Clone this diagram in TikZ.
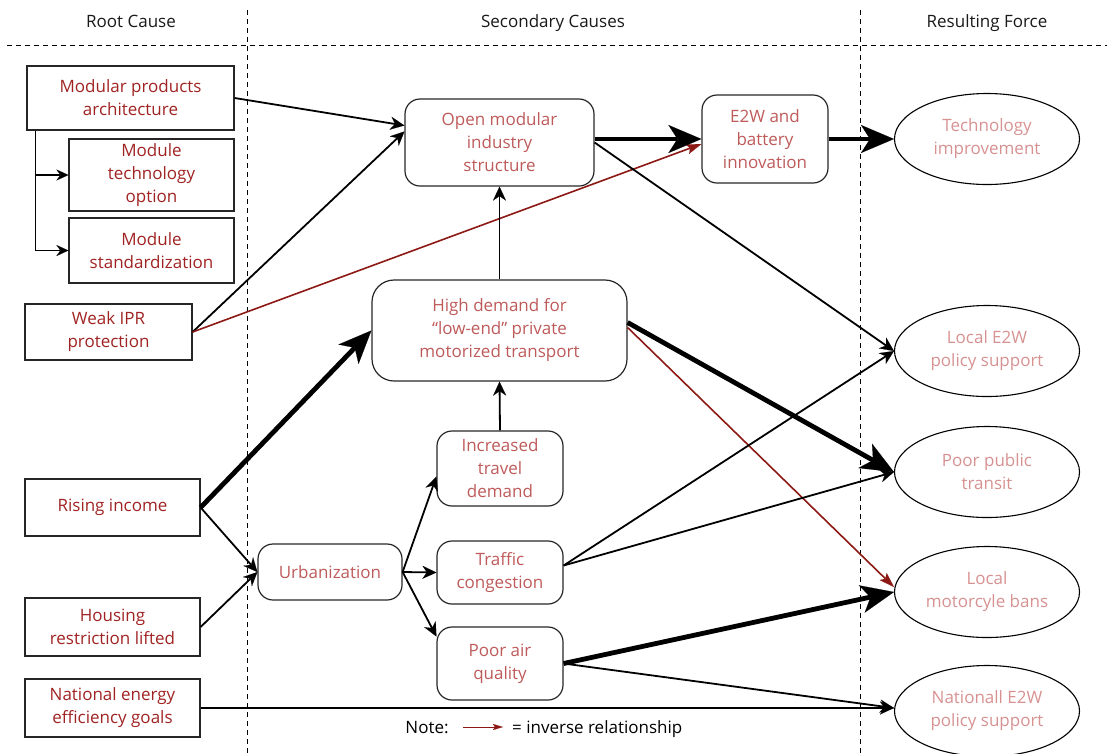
\documentclass[tikz,border=0pt]{standalone}
\usepackage{fontspec}
\setmainfont{Open Sans}
\usetikzlibrary{arrows.meta,shapes.geometric}
\definecolor{rootred}{RGB}{160,35,35}
\definecolor{secred}{RGB}{190,90,90}
\definecolor{resred}{RGB}{215,145,145}
\definecolor{invred}{RGB}{140,25,20}
\begin{document}
\begin{tikzpicture}[x=1pt,y=-1pt,
  font=\fontsize{17}{23}\selectfont,
  rootbox/.style={draw=black!85, line width=1.2pt, rectangle, align=center, text=rootred, inner sep=0pt},
  secbox/.style={draw=black!85, line width=1.2pt, rounded corners=15pt, align=center, text=secred, inner sep=0pt},
  resell/.style={draw=black, line width=1.1pt, ellipse, align=center, text=resred, inner sep=0pt, minimum width=185pt, minimum height=91pt},
  norm/.style={line width=1.8pt, -{Stealth[length=14pt,width=13pt,inset=4.5pt,line width=0.1pt]}},
  branch/.style={line width=1.3pt, -{Stealth[length=12pt,width=11pt,inset=4pt,line width=0.1pt]}},
  heavy/.style={line width=4.8pt, -{Stealth[length=33pt,width=28pt,inset=9pt,line width=0.1pt]}},
  inv/.style={draw=invred, line width=1.6pt, -{Stealth[length=15pt,width=10pt,inset=3pt,line width=0.1pt]}},
  hdr/.style={text=black!90, anchor=base, inner sep=0pt},
  sep/.style={dash pattern=on 5pt off 4pt, line width=1pt}
]
\useasboundingbox (0,0) rectangle (1107,753);
% headers and separators
\node[hdr] (h1) at (131,27) {Root Cause};
\node[hdr] (h2) at (553,27) {Secondary Causes};
\node[hdr] (h3) at (987,27) {Resulting Force};
\draw[sep] (7,45) -- (1107,45);
\draw[sep] (247,10) -- (247,753);
\draw[sep] (860,10) -- (860,753);
% root causes
\node[rootbox, minimum width=207pt, minimum height=64pt] (mpa) at (130.5,98) {Modular products\\architecture};
\node[rootbox, minimum width=165pt, minimum height=72pt] (mto) at (151.5,175) {Module\\technology\\option};
\node[rootbox, minimum width=165pt, minimum height=65pt] (mst) at (151.5,250.5) {Module\\standardization};
\node[rootbox, minimum width=167pt, minimum height=56pt] (wipr) at (108.5,332) {Weak IPR\\protection};
\node[rootbox, minimum width=175pt, minimum height=57pt] (ri) at (112.5,507.5) {Rising income};
\node[rootbox, minimum width=175pt, minimum height=58pt] (hr) at (112.5,627) {Housing\\restriction lifted};
\node[rootbox, minimum width=175pt, minimum height=58pt] (nee) at (112.5,708) {National energy\\efficiency goals};
% secondary causes
\node[secbox, minimum width=189pt, minimum height=87pt] (om) at (499.5,142.5) {Open modular\\industry\\structure};
\node[secbox, minimum width=126pt, minimum height=88pt] (e2w) at (765,139) {E2W and\\battery\\innovation};
\node[secbox, rounded corners=22pt, minimum width=255pt, minimum height=101pt] (hd) at (499.5,330.5) {High demand for\\“low-end” private\\motorized transport};
\node[secbox, minimum width=126pt, minimum height=75pt] (itd) at (500,468.5) {Increased\\travel\\demand};
\node[secbox, minimum width=144pt, minimum height=56pt] (urb) at (330,572) {Urbanization};
\node[secbox, minimum width=126pt, minimum height=63pt] (tc) at (500,572.5) {Traffic\\congestion};
\node[secbox, minimum width=126pt, minimum height=73pt] (paq) at (500,663.5) {Poor air\\quality};
% resulting forces
\node[resell] (ti) at (987,139) {Technology\\improvement};
\node[resell] (le2w) at (987,351) {Local E2W\\policy support};
\node[resell] (ppt) at (987,472) {Poor public\\transit};
\node[resell] (lmb) at (987,592) {Local\\motorcyle bans};
\node[resell] (ne2w) at (987,711) {Nationall E2W\\policy support};
% connectors
\draw[branch] ([xshift=9pt]mpa.south west) |- (mto.west);
\draw[branch] ([xshift=9pt]mpa.south west) |- (mst.west);
\draw[norm] (mpa.east) -- ([yshift=17pt]om.west);
\draw[norm] (wipr.east) -- ([yshift=11pt]om.west);
\draw[inv] (wipr.east) -- ([yshift=-5pt]e2w.west);
\draw[heavy] (om.east |- e2w.west) -- (e2w.west);
\draw[heavy] (e2w.east) -- (ti.west);
\draw[norm] (om.east) -- (le2w.west);
\draw[norm] (hd.north) -- (om.south);
\draw[heavy] (ri.east) -- (hd.west);
\draw[norm] (ri.east) -- (urb.west);
\draw[norm] (hr.east) -- (urb.west);
\draw[norm] (urb.east) -- ([yshift=-8pt]itd.west);
\draw[norm] (urb.east) -- (tc.west);
\draw[norm] (urb.east) -- ([yshift=27pt]paq.west);
\draw[norm] (itd.north) -- (hd.south);
\draw[heavy] ([yshift=8pt]hd.east) -- (ppt.west);
\draw[inv] ([yshift=3pt]hd.east) -- ([yshift=5pt]lmb.west);
\draw[norm] ([yshift=7pt]tc.east) -- (le2w.west);
\draw[norm] ([yshift=7pt]tc.east) -- (ppt.west);
\draw[heavy] (paq.east) -- (lmb.west);
\draw[norm] (paq.east) -- ([yshift=3pt]ne2w.west);
\draw[norm] (nee.east) -- ([yshift=3pt]ne2w.west);
% note
\node[anchor=base, inner sep=0pt] (note) at (427,733) {Note:};
\coordinate (na) at (463,727);
\coordinate (nb) at (503,727);
\draw[draw=invred, line width=1pt, -{Stealth[length=10pt,width=6pt,inset=2pt,line width=0.1pt]}] (na) -- (nb);
\node[anchor=base west, inner sep=0pt] (nlabel) at (512,733) {= inverse relationship};
\end{tikzpicture}
\end{document}
